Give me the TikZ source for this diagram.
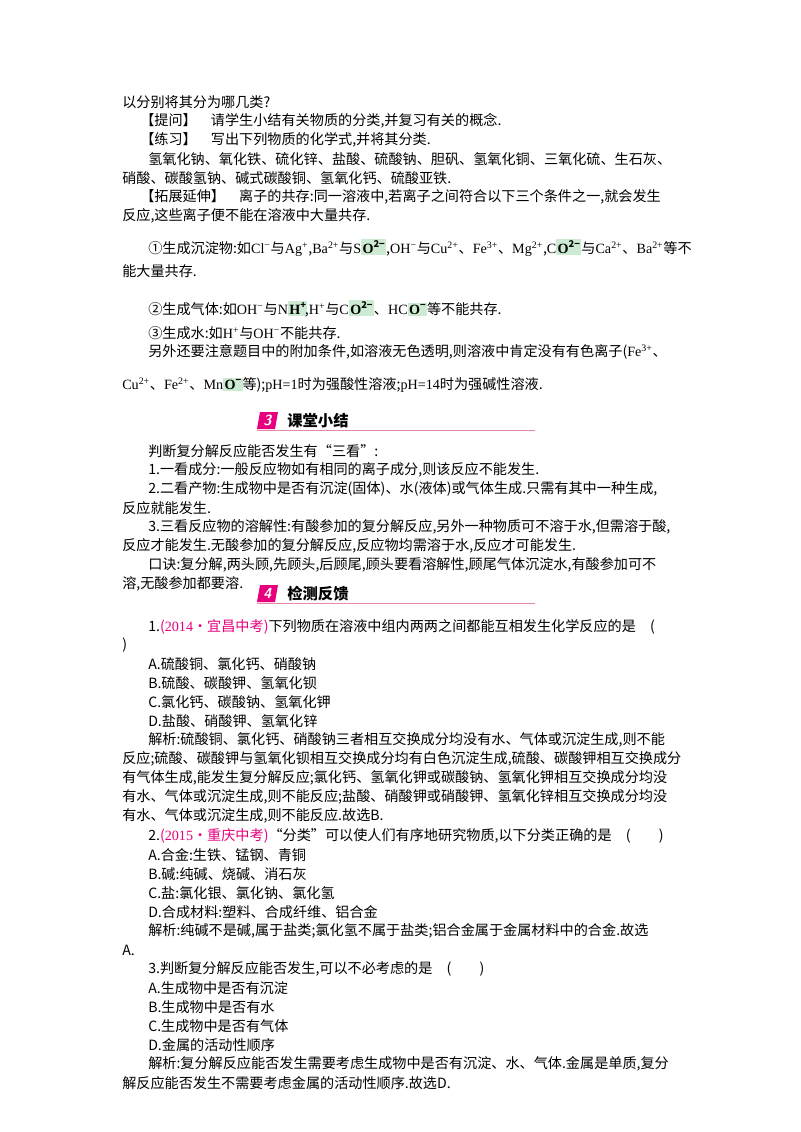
\documentclass[tikz,border=0pt]{standalone}
\usepackage{fontspec}
\setmainfont{Noto Sans CJK SC}
\newfontfamily\latf{Liberation Serif}
\definecolor{hl}{HTML}{CDEBD2}
\definecolor{mag}{HTML}{E6007E}
\definecolor{pinkl}{HTML}{E48AA8}
\newcommand{\sps}[1]{\textsuperscript{\latf #1}}
\newcommand{\ionb}[2]{{\setlength{\fboxsep}{1pt}\colorbox{hl}{\textbf{\latf #1}\raisebox{0.8ex}{\scriptsize\textbf{#2}}}}}
\tikzset{tl/.style={anchor=west,inner sep=0pt,font=\fontsize{10.6pt}{12pt}\selectfont},
 hd/.style={anchor=west,inner sep=0pt,font=\fontsize{11.5pt}{13pt}\selectfont\bfseries}}
\begin{document}
\begin{tikzpicture}[x=0.75pt,y=-0.75pt]
\useasboundingbox (0,0) rectangle (800,1132);
\fill[white] (0,0) rectangle (800,1132);
\node[tl] (l1) at (122,102) {以分别将其分为哪几类?};
\node[tl] (l2) at (140,121) {【提问】\quad 请学生小结有关物质的分类,并复习有关的概念.};
\node[tl] (l3) at (140,140) {【练习】\quad 写出下列物质的化学式,并将其分类.};
\node[tl] (l4) at (148,159) {氢氧化钠、氧化铁、硫化锌、盐酸、硫酸钠、胆矾、氢氧化铜、三氧化硫、生石灰、};
\node[tl] (l5) at (122,178) {硝酸、碳酸氢钠、碱式碳酸铜、氢氧化钙、硫酸亚铁.};
\node[tl] (l6) at (140,197) {【拓展延伸】\quad 离子的共存:同一溶液中,若离子之间符合以下三个条件之一,就会发生};
\node[tl] (l7) at (122,216) {反应,这些离子便不能在溶液中大量共存.};
\node[tl] (l8) at (148,248) {①生成沉淀物:如{\latf Cl}\sps{−}与{\latf Ag}\sps{+},{\latf Ba}\sps{2+}与{\latf S}\ionb{O}{2−},{\latf OH}\sps{−}与{\latf Cu}\sps{2+}、{\latf Fe}\sps{3+}、{\latf Mg}\sps{2+},{\latf C}\ionb{O}{2−}与{\latf Ca}\sps{2+}、{\latf Ba}\sps{2+}等不};
\node[tl] (l9) at (122,271) {能大量共存.};
\node[tl] (l10) at (148,309) {②生成气体:如{\latf OH}\sps{−}与{\latf N}\ionb{H}{+}\!,{\latf H}\sps{+}与{\latf C}\ionb{O}{2−}、{\latf HC}\ionb{O}{−}等不能共存.};
\node[tl] (l11) at (148,333) {③生成水:如{\latf H}\sps{+}与{\latf OH}\sps{−}不能共存.};
\node[tl] (l12) at (148,352) {另外还要注意题目中的附加条件,如溶液无色透明,则溶液中肯定没有有色离子({\latf Fe}\sps{3+}、};
\node[tl] (l13) at (122,385) {{\latf Cu}\sps{2+}、{\latf Fe}\sps{2+}、{\latf Mn}\ionb{O}{−}等);{\latf pH=1}时为强酸性溶液;{\latf pH=14}时为强碱性溶液.};
% heading 3
\fill[mag] (260,412) -- (278,412) -- (275,429) -- (257,429) -- cycle;
\node[font=\bfseries\itshape\sffamily\fontsize{11pt}{12pt}\selectfont,text=white,inner sep=0pt] (n3) at (267.5,420.5) {3};
\node[hd] (h3) at (287,421) {课堂小结};
\draw[pinkl,line width=1pt] (257,430.5) -- (535,430.5);
\node[tl] (m1) at (148,451) {判断复分解反应能否发生有“三看”:};
\node[tl] (m2) at (148,470) {1.一看成分:一般反应物如有相同的离子成分,则该反应不能发生.};
\node[tl] (m3) at (148,489) {2.二看产物:生成物中是否有沉淀(固体)、水(液体)或气体生成.只需有其中一种生成,};
\node[tl] (m4) at (122,508) {反应就能发生.};
\node[tl] (m5) at (148,527) {3.三看反应物的溶解性:有酸参加的复分解反应,另外一种物质可不溶于水,但需溶于酸,};
\node[tl] (m6) at (122,546) {反应才能发生.无酸参加的复分解反应,反应物均需溶于水,反应才可能发生.};
\node[tl] (m7) at (148,565) {口诀:复分解,两头顾,先顾头,后顾尾,顾头要看溶解性,顾尾气体沉淀水,有酸参加可不};
\node[tl] (m8) at (122,584) {溶,无酸参加都要溶.};
% heading 4
\fill[mag] (260,585) -- (278,585) -- (275,602) -- (257,602) -- cycle;
\node[font=\bfseries\itshape\sffamily\fontsize{11pt}{12pt}\selectfont,text=white,inner sep=0pt] (n4) at (267.5,593.5) {4};
\node[hd] (h4) at (287,594) {检测反馈};
\draw[pinkl,line width=1pt] (257,603.5) -- (535,603.5);
\node[tl] (q1) at (148,627) {1.{\color{mag}({\latf 2014}·宜昌中考)}下列物质在溶液中组内两两之间都能互相发生化学反应的是\quad(};
\node[tl] (q2) at (122,645) {)};
\node[tl] (q3) at (148,664) {A.硫酸铜、氯化钙、硝酸钠};
\node[tl] (q4) at (148,683) {B.硫酸、碳酸钾、氢氧化钡};
\node[tl] (q5) at (148,702) {C.氯化钙、碳酸钠、氢氧化钾};
\node[tl] (q6) at (148,721) {D.盐酸、硝酸钾、氢氧化锌};
\node[tl] (q7) at (148,740) {解析:硫酸铜、氯化钙、硝酸钠三者相互交换成分均没有水、气体或沉淀生成,则不能};
\node[tl] (q8) at (122,759) {反应;硫酸、碳酸钾与氢氧化钡相互交换成分均有白色沉淀生成,硫酸、碳酸钾相互交换成分};
\node[tl] (q9) at (122,778) {有气体生成,能发生复分解反应;氯化钙、氢氧化钾或碳酸钠、氢氧化钾相互交换成分均没};
\node[tl] (q10) at (122,797) {有水、气体或沉淀生成,则不能反应;盐酸、硝酸钾或硝酸钾、氢氧化锌相互交换成分均没};
\node[tl] (q11) at (122,816) {有水、气体或沉淀生成,则不能反应.故选B.};
\node[tl] (r1) at (148,836) {2.{\color{mag}({\latf 2015}·重庆中考)}“分类”可以使人们有序地研究物质,以下分类正确的是\quad(\qquad)};
\node[tl] (r2) at (148,855) {A.合金:生铁、锰钢、青铜};
\node[tl] (r3) at (148,874) {B.碱:纯碱、烧碱、消石灰};
\node[tl] (r4) at (148,893) {C.盐:氯化银、氯化钠、氯化氢};
\node[tl] (r5) at (148,912) {D.合成材料:塑料、合成纤维、铝合金};
\node[tl] (r6) at (148,931) {解析:纯碱不是碱,属于盐类;氯化氢不属于盐类;铝合金属于金属材料中的合金.故选};
\node[tl] (r7) at (122,950) {A.};
\node[tl] (s1) at (148,969) {3.判断复分解反应能否发生,可以不必考虑的是\quad(\qquad)};
\node[tl] (s2) at (148,988) {A.生成物中是否有沉淀};
\node[tl] (s3) at (148,1007) {B.生成物中是否有水};
\node[tl] (s4) at (148,1026) {C.生成物中是否有气体};
\node[tl] (s5) at (148,1045) {D.金属的活动性顺序};
\node[tl] (s6) at (148,1064) {解析:复分解反应能否发生需要考虑生成物中是否有沉淀、水、气体.金属是单质,复分};
\node[tl] (s7) at (122,1083) {解反应能否发生不需要考虑金属的活动性顺序.故选D.};
\end{tikzpicture}
\end{document}
